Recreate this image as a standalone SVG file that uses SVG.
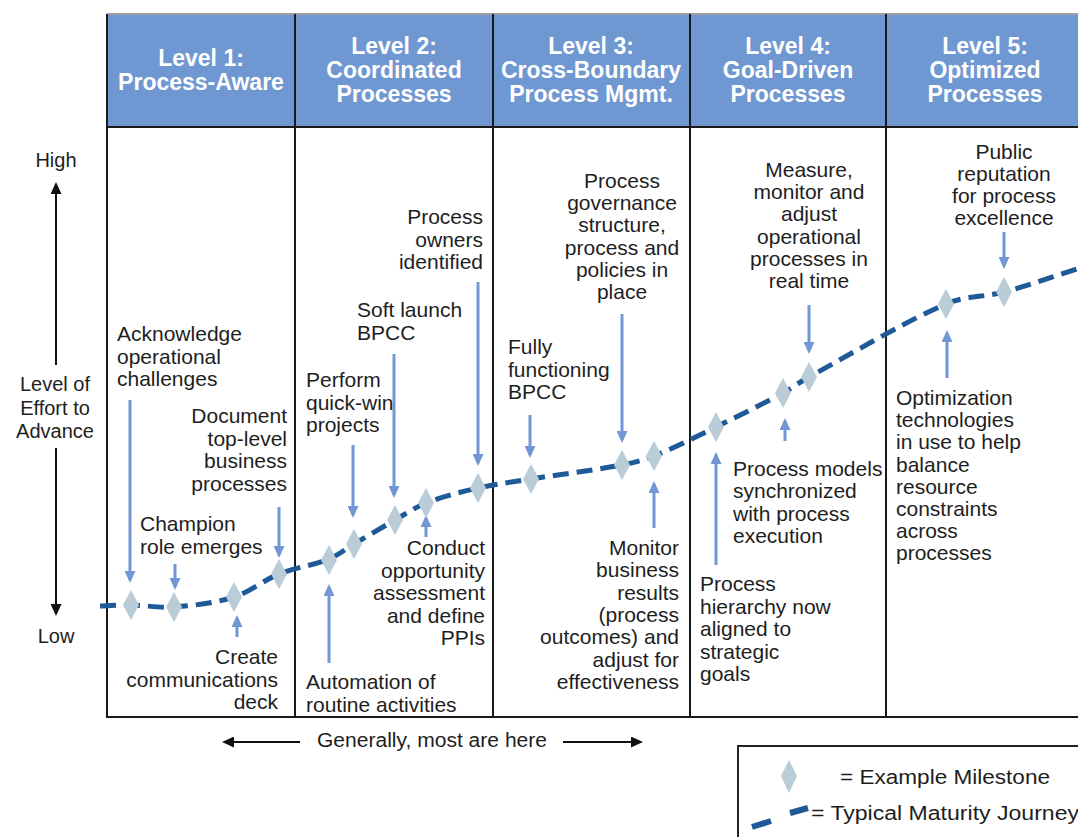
<svg xmlns="http://www.w3.org/2000/svg" width="1078" height="837" viewBox="0 0 1078 837">
  <style>
    .hdr { font-family: "Liberation Sans", Arial, sans-serif; font-size: 23px; font-weight: bold; fill: #ffffff; text-anchor: middle; }
    .lbl { font-family: "Liberation Sans", Arial, sans-serif; font-size: 21px; fill: #1e1e1e; }
    .axis { font-family: "Liberation Sans", Arial, sans-serif; font-size: 20px; fill: #1e1e1e; text-anchor: middle; }
    .small { font-family: "Liberation Sans", Arial, sans-serif; font-size: 20px; fill: #1e1e1e; }
    .grid { stroke: #1a1a1a; stroke-width: 2; fill: none; }
    .ms { fill: #b9ccd7; }
    .pin { stroke: #7397d2; stroke-width: 3; fill: none; marker-end: url(#pinHead); }
    .blk { stroke: #111; stroke-width: 2; fill: none; marker-end: url(#blkHead); }
    .journey { stroke: #1f5a98; stroke-width: 5; fill: none; stroke-dasharray: 16 8; }
  </style>
  <defs>
    <marker id="pinHead" markerUnits="userSpaceOnUse" markerWidth="12" markerHeight="11" refX="9" refY="5.5" orient="auto">
      <path d="M0,0 L12,5.5 L0,11 z" fill="#7397d2"/>
    </marker>
    <marker id="blkHead" markerUnits="userSpaceOnUse" markerWidth="12" markerHeight="11" refX="9" refY="5.5" orient="auto">
      <path d="M0,0 L12,5.5 L0,11 z" fill="#111"/>
    </marker>
    <path id="diamond" d="M0,-15 L8,0 L0,15 L-8,0 z"/>
  </defs>

  <rect width="1078" height="837" fill="#ffffff"/>

  <!-- level table -->
  <g id="table">
    <rect x="107" y="15" width="980" height="112" fill="#6f97d1"/>
    <line x1="107" y1="14" x2="1078" y2="14" stroke="#a0a0a0" stroke-width="2"/>
    <line class="grid" x1="107" y1="127" x2="1078" y2="127"/>
    <line class="grid" x1="107" y1="717" x2="1078" y2="717"/>
    <line class="grid" x1="107" y1="14" x2="107" y2="718"/>
    <line class="grid" x1="295" y1="14" x2="295" y2="718"/>
    <line class="grid" x1="493" y1="14" x2="493" y2="718"/>
    <line class="grid" x1="690" y1="14" x2="690" y2="718"/>
    <line class="grid" x1="886" y1="14" x2="886" y2="718"/>
  </g>

  <g id="level1-header"><text class="hdr" x="201" y="66">Level 1:<tspan x="201" dy="24">Process-Aware</tspan></text></g>
  <g id="level2-header"><text class="hdr" x="394" y="54">Level 2:<tspan x="394" dy="24">Coordinated</tspan><tspan x="394" dy="24">Processes</tspan></text></g>
  <g id="level3-header"><text class="hdr" x="591" y="54">Level 3:<tspan x="591" dy="24">Cross-Boundary</tspan><tspan x="591" dy="24">Process Mgmt.</tspan></text></g>
  <g id="level4-header"><text class="hdr" x="788" y="54">Level 4:<tspan x="788" dy="24">Goal-Driven</tspan><tspan x="788" dy="24">Processes</tspan></text></g>
  <g id="level5-header"><text class="hdr" x="985" y="54">Level 5:<tspan x="985" dy="24">Optimized</tspan><tspan x="985" dy="24">Processes</tspan></text></g>

  <!-- effort axis -->
  <g id="effort-axis">
    <text class="axis" x="56" y="167">High</text>
    <line class="blk" x1="56" y1="365" x2="56" y2="185"/>
    <text class="axis" x="55" y="391">Level of<tspan x="55" dy="23.5">Effort to</tspan><tspan x="55" dy="23.5">Advance</tspan></text>
    <line class="blk" x1="56" y1="448" x2="56" y2="613"/>
    <text class="axis" x="56" y="643">Low</text>
  </g>

  <!-- maturity journey curve and milestone pointers -->
  <g id="connectors">
    <path class="journey" d="M100,606 C110.3,605.7 120.7,604.9 131,605 C145.3,605.2 159.7,608.1 174,607 C194,605.4 214,603.3 234,597 C249,592.3 264,580 279,574 C295.7,567.3 312.3,565.7 329,559 C337.3,555.7 345.7,548.9 354,544 C367.7,535.9 381.3,527.8 395,520 C405.3,514.1 415.7,507 426,503 C443.3,496.3 460.7,492 478,488 C495.7,484 513.3,481.8 531,479 C561.3,474.1 591.7,470.7 622,465 C632.7,463 643.3,460.3 654,456 C674.7,447.6 695.3,437.1 716,427 C738.3,416.1 760.7,405 783,393 C791.7,388.3 800.3,381.7 809,377 C854.7,352.1 900.3,323.9 946,304 C965.3,295.6 984.7,297.2 1004,292 C1029.3,285.2 1054.7,276 1080,268"/>

    <line class="pin" x1="130" y1="400" x2="130" y2="580"/>
    <line class="pin" x1="175" y1="564" x2="175" y2="587"/>
    <line class="pin" x1="279" y1="507" x2="279" y2="555"/>
    <line class="pin" x1="237" y1="637" x2="237" y2="618"/>
    <line class="pin" x1="478" y1="282" x2="478" y2="463"/>
    <line class="pin" x1="394" y1="354" x2="394" y2="495"/>
    <line class="pin" x1="353" y1="445" x2="353" y2="515"/>
    <line class="pin" x1="426" y1="537" x2="426" y2="518"/>
    <line class="pin" x1="329" y1="663" x2="329" y2="587"/>
    <line class="pin" x1="622" y1="314" x2="622" y2="440"/>
    <line class="pin" x1="530" y1="415" x2="530" y2="455"/>
    <line class="pin" x1="654" y1="528" x2="654" y2="484"/>
    <line class="pin" x1="809" y1="305" x2="809" y2="351"/>
    <line class="pin" x1="785" y1="441" x2="785" y2="421"/>
    <line class="pin" x1="716" y1="565" x2="716" y2="455"/>
    <line class="pin" x1="1004" y1="232" x2="1004" y2="266"/>
    <line class="pin" x1="947" y1="378" x2="947" y2="333"/>
  </g>

  <!-- milestones -->
  <g id="milestones">
    <use href="#diamond" class="ms" x="131" y="605"/>
    <use href="#diamond" class="ms" x="174" y="607"/>
    <use href="#diamond" class="ms" x="234" y="597"/>
    <use href="#diamond" class="ms" x="279" y="574"/>
    <use href="#diamond" class="ms" x="329" y="560"/>
    <use href="#diamond" class="ms" x="354" y="544"/>
    <use href="#diamond" class="ms" x="395" y="520"/>
    <use href="#diamond" class="ms" x="426" y="503"/>
    <use href="#diamond" class="ms" x="478" y="488"/>
    <use href="#diamond" class="ms" x="531" y="479"/>
    <use href="#diamond" class="ms" x="622" y="465"/>
    <use href="#diamond" class="ms" x="654" y="456"/>
    <use href="#diamond" class="ms" x="716" y="427"/>
    <use href="#diamond" class="ms" x="783" y="393"/>
    <use href="#diamond" class="ms" x="809" y="377"/>
    <use href="#diamond" class="ms" x="946" y="304"/>
    <use href="#diamond" class="ms" x="1004" y="292"/>
  </g>

  <!-- level 1 notes -->
  <g id="acknowledge"><text class="lbl" x="117" y="341">Acknowledge<tspan x="117" dy="22.5">operational</tspan><tspan x="117" dy="22.5">challenges</tspan></text></g>
  <g id="document"><text class="lbl" x="287" y="423" text-anchor="end">Document<tspan x="287" dy="22.5">top-level</tspan><tspan x="287" dy="22.5">business</tspan><tspan x="287" dy="22.5">processes</tspan></text></g>
  <g id="champion"><text class="lbl" x="140" y="531">Champion<tspan x="140" dy="22.5">role emerges</tspan></text></g>
  <g id="create"><text class="lbl" x="278" y="664" text-anchor="end">Create<tspan x="278" dy="22.5">communications</tspan><tspan x="278" dy="22.5">deck</tspan></text></g>

  <!-- level 2 notes -->
  <g id="owners"><text class="lbl" x="483" y="224" text-anchor="end">Process<tspan x="483" dy="22.5">owners</tspan><tspan x="483" dy="22.5">identified</tspan></text></g>
  <g id="soft-launch"><text class="lbl" x="357" y="317">Soft launch<tspan x="357" dy="22.5">BPCC</tspan></text></g>
  <g id="quick-win"><text class="lbl" x="306" y="387">Perform<tspan x="306" dy="22.5">quick-win</tspan><tspan x="306" dy="22.5">projects</tspan></text></g>
  <g id="conduct"><text class="lbl" x="485" y="555" text-anchor="end">Conduct<tspan x="485" dy="22.5">opportunity</tspan><tspan x="485" dy="22.5">assessment</tspan><tspan x="485" dy="22.5">and define</tspan><tspan x="485" dy="22.5">PPIs</tspan></text></g>
  <g id="automation"><text class="lbl" x="306" y="689">Automation of<tspan x="306" dy="22.5">routine activities</tspan></text></g>

  <!-- level 3 notes -->
  <g id="governance"><text class="lbl" x="622" y="188" text-anchor="middle">Process<tspan x="622" dy="22.2">governance</tspan><tspan x="622" dy="22.2">structure,</tspan><tspan x="622" dy="22.2">process and</tspan><tspan x="622" dy="22.2">policies in</tspan><tspan x="622" dy="22.2">place</tspan></text></g>
  <g id="fully-functioning"><text class="lbl" x="508" y="354">Fully<tspan x="508" dy="22.5">functioning</tspan><tspan x="508" dy="22.5">BPCC</tspan></text></g>
  <g id="monitor"><text class="lbl" x="679" y="555" text-anchor="end">Monitor<tspan x="679" dy="22.3">business</tspan><tspan x="679" dy="22.3">results</tspan><tspan x="679" dy="22.3">(process</tspan><tspan x="679" dy="22.3">outcomes) and</tspan><tspan x="679" dy="22.3">adjust for</tspan><tspan x="679" dy="22.3">effectiveness</tspan></text></g>

  <!-- level 4 notes -->
  <g id="measure"><text class="lbl" x="809" y="177" text-anchor="middle">Measure,<tspan x="809" dy="22.2">monitor and</tspan><tspan x="809" dy="22.2">adjust</tspan><tspan x="809" dy="22.2">operational</tspan><tspan x="809" dy="22.2">processes in</tspan><tspan x="809" dy="22.2">real time</tspan></text></g>
  <g id="process-models"><text class="lbl" x="733" y="476">Process models<tspan x="733" dy="22.4">synchronized</tspan><tspan x="733" dy="22.4">with process</tspan><tspan x="733" dy="22.4">execution</tspan></text></g>
  <g id="hierarchy"><text class="lbl" x="700" y="591">Process<tspan x="700" dy="22.5">hierarchy now</tspan><tspan x="700" dy="22.5">aligned to</tspan><tspan x="700" dy="22.5">strategic</tspan><tspan x="700" dy="22.5">goals</tspan></text></g>

  <!-- level 5 notes -->
  <g id="reputation"><text class="lbl" x="1004" y="159" text-anchor="middle">Public<tspan x="1004" dy="22">reputation</tspan><tspan x="1004" dy="22">for process</tspan><tspan x="1004" dy="22">excellence</tspan></text></g>
  <g id="optimization"><text class="lbl" x="896" y="405">Optimization<tspan x="896" dy="22.2">technologies</tspan><tspan x="896" dy="22.2">in use to help</tspan><tspan x="896" dy="22.2">balance</tspan><tspan x="896" dy="22.2">resource</tspan><tspan x="896" dy="22.2">constraints</tspan><tspan x="896" dy="22.2">across</tspan><tspan x="896" dy="22.2">processes</tspan></text></g>

  <!-- range note under the table -->
  <g id="range-note">
    <line class="blk" stroke-width="1.5" x1="300" y1="742" x2="225" y2="742"/>
    <text class="small" x="317" y="747" textLength="230" lengthAdjust="spacingAndGlyphs">Generally, most are here</text>
    <line class="blk" stroke-width="1.5" x1="563" y1="742" x2="640" y2="742"/>
  </g>

  <!-- legend -->
  <g id="legend">
    <rect x="738" y="746" width="400" height="120" fill="#ffffff" stroke="#222" stroke-width="2"/>
    <path d="M789,760 L797,776 L789,793 L781,776 z" class="ms"/>
    <text class="small" x="840" y="784" textLength="210" lengthAdjust="spacingAndGlyphs">= Example  Milestone</text>
    <path d="M752,827 L771,821 M790,813 L808,808" stroke="#1f5a98" stroke-width="6" fill="none"/>
    <text class="small" x="811" y="820" textLength="268" lengthAdjust="spacingAndGlyphs">= Typical Maturity Journey</text>
  </g>
</svg>
